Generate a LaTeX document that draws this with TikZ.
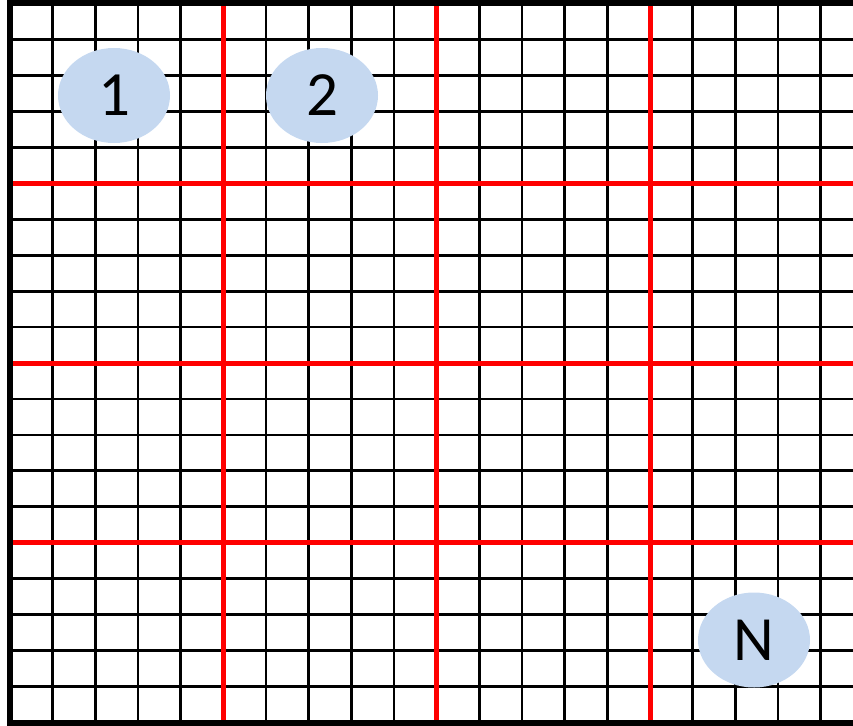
\documentclass[tikz,border=0pt]{standalone}
\usepackage{fontspec}
\setmainfont{Carlito}
\usetikzlibrary{shapes.geometric}
\definecolor{cellblue}{RGB}{197,216,240}
\definecolor{gridred}{RGB}{255,0,0}
\begin{document}
\begin{tikzpicture}[x=1pt,y=-1pt,
  thin grid/.style={black,line width=2.8pt},
  red grid/.style={gridred,line width=5pt},
  frame/.style={black,line width=6pt},
  bubble/.style={ellipse,fill=cellblue,minimum width=112pt,minimum height=95pt,inner sep=0pt,font=\fontsize{63}{63}\selectfont}]
\useasboundingbox (0,0) rectangle (853,725);
% thin black grid
\foreach \k in {1,...,19}{
  \draw[thin grid] ({10+\k*42.67},3.5) -- ({10+\k*42.67},722.5);
  \draw[thin grid] (10,{3.5+\k*35.95}) -- (853,{3.5+\k*35.95});
}
% red grid
\foreach \k in {5,10,15}{
  \draw[red grid] ({10+\k*42.67},3.5) -- ({10+\k*42.67},722.5);
}
\foreach \k in {5,10,15}{
  \draw[red grid] (10,{3.5+\k*35.95}) -- (853,{3.5+\k*35.95});
}
% frame
\draw[frame] (853,3.5) -- (10,3.5) -- (10,722.5) -- (853,722.5);
% cells
\node[bubble] (c1) at (114,95.5) {1};
\node[bubble] (c2) at (322,95.5) {2};
\node[bubble] (cN) at (754,640) {N};
\end{tikzpicture}
\end{document}
